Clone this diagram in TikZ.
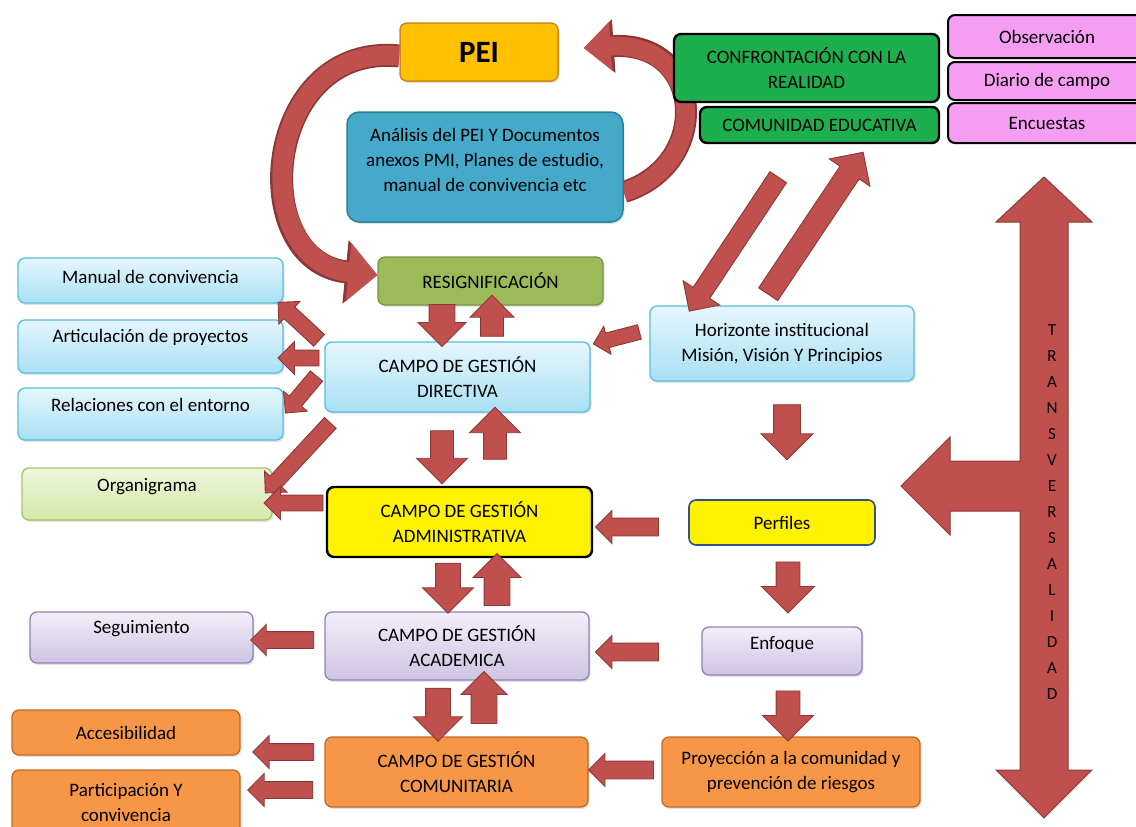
\documentclass[tikz,border=0pt]{standalone}
\usepackage{fontspec}
\setmainfont{Carlito}
\usetikzlibrary{shapes.arrows,calc,arrows.meta,shadows}
\pgfdeclarelayer{background}
\pgfsetlayers{background,main}
\definecolor{arrred}{HTML}{C0504D}
\definecolor{arrdark}{HTML}{8C3836}
\definecolor{lbtop}{HTML}{E6F6FD}
\definecolor{lbbot}{HTML}{A8E0F4}
\definecolor{lbdraw}{HTML}{57BFD9}
\definecolor{lvtop}{HTML}{F3EFF9}
\definecolor{lvbot}{HTML}{CFC3E3}
\definecolor{lvdraw}{HTML}{9080B8}
\definecolor{orfill}{HTML}{F79646}
\definecolor{ordraw}{HTML}{C06A25}
\definecolor{ogtop}{HTML}{EEF6DD}
\definecolor{ogbot}{HTML}{D4E8A8}
\definecolor{ogdraw}{HTML}{A3C36A}
\definecolor{resfill}{HTML}{9BBB59}
\definecolor{resdraw}{HTML}{7A9444}
\definecolor{grfill}{HTML}{1DAF4E}
\definecolor{pkfill}{HTML}{F59DF2}
\definecolor{peifill}{HTML}{FFC000}
\definecolor{peidraw}{HTML}{D08A1A}
\definecolor{anafill}{HTML}{45A9CA}
\definecolor{anadraw}{HTML}{2E7F98}
\definecolor{perfdraw}{HTML}{2F4F8F}
\newcommand\liftt[2]{\raisebox{#1pt}[\height][\depth]{#2}}
% \barr{name}{from}{to}{head width}{shaft width}
\newcommand\barr[5]{%
 \path let \p1=#2, \p2=#3, \n1={atan2(\y2-\y1,\x2-\x1)}, \n2={veclen(\x2-\x1,\y2-\y1)},
   \n3={(#4-#5)/2}, \n4={#5/2} in
 node[barrow, rotate=\n1, minimum height=\n2, inner ysep={\n4 pt}, single arrow head extend={\n3 pt}] (#1) at ($#2!0.5!#3$) {};}
\tikzset{
 shadowed/.style={drop shadow={opacity=0.22, shadow xshift=1.5pt, shadow yshift=-2pt}},
 box/.style={rectangle, rounded corners=7pt, align=center, inner sep=1pt, line width=1.3pt},
 lblue/.style={box, draw=lbdraw, top color=lbtop, bottom color=lbbot, shadowed},
 lav/.style={box, draw=lvdraw, top color=lvtop, bottom color=lvbot, shadowed},
 orng/.style={box, draw=ordraw, fill=orfill, shadowed},
 orggreen/.style={box, draw=ogdraw, top color=ogtop, bottom color=ogbot, shadowed},
 resbox/.style={box, draw=resdraw, fill=resfill, shadowed},
 yelbox/.style={box, draw=black, fill=yellow, line width=2.4pt},
 perfbox/.style={box, draw=perfdraw, fill=yellow, line width=1.6pt},
 grbox/.style={box, draw=black, fill=grfill, line width=2.4pt},
 pkbox/.style={box, draw=black, fill=pkfill, line width=2pt},
 peibox/.style={box, draw=peidraw, fill=peifill, line width=1.5pt, shadowed},
 anabox/.style={box, draw=anadraw, fill=anafill, line width=1.5pt, rounded corners=12pt, shadowed},
 barrow/.style={single arrow, fill=arrred, draw=arrdark, line width=0.9pt, inner xsep=0pt, outer sep=0pt},
 curvedarkA/.style={draw=arrdark, line width=23pt, -{Triangle[length=32pt, width=62pt]}},
 curveredA/.style={draw=arrred, line width=19.5pt, -{Triangle[length=29pt, width=57pt]}},
 curvedarkB/.style={draw=arrdark, line width=22pt, -{Triangle[length=30pt, width=52pt]}},
 curveredB/.style={draw=arrred, line width=18.5pt, -{Triangle[length=27pt, width=47pt]}},
}
\begin{document}
\begin{tikzpicture}[x=1pt,y=-1pt, every node/.style={font=\fontsize{19}{25}\selectfont}]
\useasboundingbox (0,0) rectangle (1136,827);
\clip (0,0) rectangle (1136,827);

% top area
\node[peibox, minimum width=158pt, minimum height=58pt, font=\fontsize{31}{36}\selectfont\bfseries] (pei) at (479,52) {PEI};
\node[anabox, minimum width=276pt, minimum height=110pt] (ana) at (485,167)
 {\liftt{6}{\begin{tabular}{@{}c@{}}Análisis del PEI Y Documentos\\anexos PMI, Planes de estudio,\\manual de convivencia etc\end{tabular}}};
\node[grbox, minimum width=265pt, minimum height=68pt] (conf) at (806.5,68) {CONFRONTACIÓN CON LA\\REALIDAD};
\node[grbox, minimum width=239pt, minimum height=36pt] (comu) at (819.5,125) {COMUNIDAD EDUCATIVA};
\node[pkbox, minimum width=198pt, minimum height=43pt] (obs) at (1047,36.5) {Observación};
\node[pkbox, minimum width=198pt, minimum height=38pt] (diar) at (1047,81) {Diario de campo};
\node[pkbox, minimum width=198pt, minimum height=40pt] (enc) at (1047,123) {Encuestas};

% left column
\node[lblue, minimum width=265pt, minimum height=45pt] (man) at (150.5,280.5) {\liftt{4}{Manual de convivencia}};
\node[lblue, minimum width=265pt, minimum height=53pt] (art) at (150.5,346.5) {\liftt{9}{Articulación de proyectos}};
\node[lblue, minimum width=265pt, minimum height=52pt] (rel) at (150.5,414) {\liftt{9}{Relaciones con el entorno}};
\node[orggreen, minimum width=250pt, minimum height=52pt] (org) at (147,494) {\liftt{7}{Organigrama}};
\node[lav, minimum width=223pt, minimum height=51pt] (seg) at (141.5,637.5) {\liftt{9}{Seguimiento}};
\node[orng, minimum width=228pt, minimum height=45pt] (acc) at (126,732.5) {Accesibilidad};
\node[orng, minimum width=228pt, minimum height=65pt] (par) at (126,802.5) {Participación Y\\convivencia};

% centre column
\node[resbox, minimum width=225pt, minimum height=48pt] (res) at (490.5,281) {RESIGNIFICACIÓN};
\node[lblue, minimum width=265pt, minimum height=70pt] (dir) at (457.5,377) {CAMPO DE GESTIÓN\\DIRECTIVA};
\node[yelbox, minimum width=265pt, minimum height=70pt] (adm) at (459.5,522) {CAMPO DE GESTIÓN\\ADMINISTRATIVA};
\node[lav, minimum width=264pt, minimum height=68pt] (aca) at (457,646) {CAMPO DE GESTIÓN\\ACADEMICA};
\node[orng, minimum width=263pt, minimum height=70pt] (com) at (456.5,772) {CAMPO DE GESTIÓN\\COMUNITARIA};

% right column
\node[lblue, minimum width=264pt, minimum height=75pt] (hor) at (782,343.5) {Horizonte institucional\\Misión, Visión Y Principios};
\node[perfbox, minimum width=186pt, minimum height=45pt] (perf) at (782,522.5) {Perfiles};
\node[lav, minimum width=160pt, minimum height=48pt] (enf) at (782,651) {\liftt{6}{Enfoque}};
\node[orng, minimum width=258pt, minimum height=70pt] (proy) at (791,772) {Proyección a la comunidad y\\prevención de riesgos};

% curved arrows (behind the boxes)
\begin{pgfonlayer}{background}
\draw[curvedarkA] ([yshift=-4pt]pei.west) .. controls (262,42) and (245,262) .. ([yshift=6pt]res.west);
\draw[curveredA] ([yshift=-4pt]pei.west) .. controls (262,42) and (245,262) .. ([yshift=6pt]res.west);
\draw[curvedarkB] ([yshift=-25pt]ana.east) .. controls (712,165) and (705,40) .. ([xshift=25pt,yshift=4pt]pei.east);
\draw[curveredB] ([yshift=-25pt]ana.east) .. controls (712,165) and (705,40) .. ([xshift=25pt,yshift=4pt]pei.east);
\end{pgfonlayer}

% transversalidad arrow
\fill[arrred, draw=arrdark, line width=1pt] (1044,177) -- (1092,222) -- (1068,222) -- (1068,770) -- (1092,770)
 -- (1044,818) -- (996,770) -- (1020,770) -- (1020,511) -- (950,511) -- (950,535) -- (901,486)
 -- (950,437) -- (950,461) -- (1020,461) -- (1020,222) -- (996,222) -- cycle;
\node[align=center, font=\fontsize{17}{26}\selectfont] (trans) at (1052,512)
 {T\\R\\A\\N\\S\\V\\E\\R\\S\\A\\L\\I\\D\\A\\D};

% block arrows
\barr{a1}{(442,298)}{(442,340)}{47}{25}
\barr{a2}{(492,342)}{(492,301)}{43}{22}
\barr{a3}{(442,425)}{(442,478)}{50}{22}
\barr{a4}{(495,465)}{(495,413)}{50}{22}
\barr{a5}{(448,557)}{(448,607)}{50}{24}
\barr{a6}{(497,612)}{(497,560)}{47}{25}
\barr{a7}{(438,682)}{(438,735)}{48}{24}
\barr{a8}{(484,730)}{(484,678)}{45}{25}
\barr{a9}{(322,343)}{(281,305)}{30}{15}
\barr{a10}{(323,358)}{(282,358)}{32}{15}
\barr{a11}{(319,373)}{(288,410)}{30}{15}
\barr{a12}{(333,420)}{(268,490)}{30}{15}
\barr{a13}{(327,503)}{(268,503)}{32}{15}
\barr{a14}{(318,640)}{(255,640)}{30}{16}
\barr{a15}{(318,752)}{(257,752)}{32}{16}
\barr{a16}{(317,790)}{(252,790)}{32}{16}
\barr{a17}{(643,331)}{(597,343)}{28}{14}
\barr{a18}{(787,398)}{(787,453)}{51}{26}
\barr{a19}{(663,527)}{(600,527)}{32}{17}
\barr{a20}{(788,556)}{(788,607)}{52}{23}
\barr{a21}{(663,652)}{(600,652)}{32}{17}
\barr{a22}{(788,685)}{(788,735)}{50}{23}
\barr{a23}{(658,770)}{(593,770)}{32}{17}
\barr{a24}{(781,173)}{(692,307)}{43}{19}
\barr{a25}{(765,299)}{(860,157)}{48}{22}
\end{tikzpicture}
\end{document}
